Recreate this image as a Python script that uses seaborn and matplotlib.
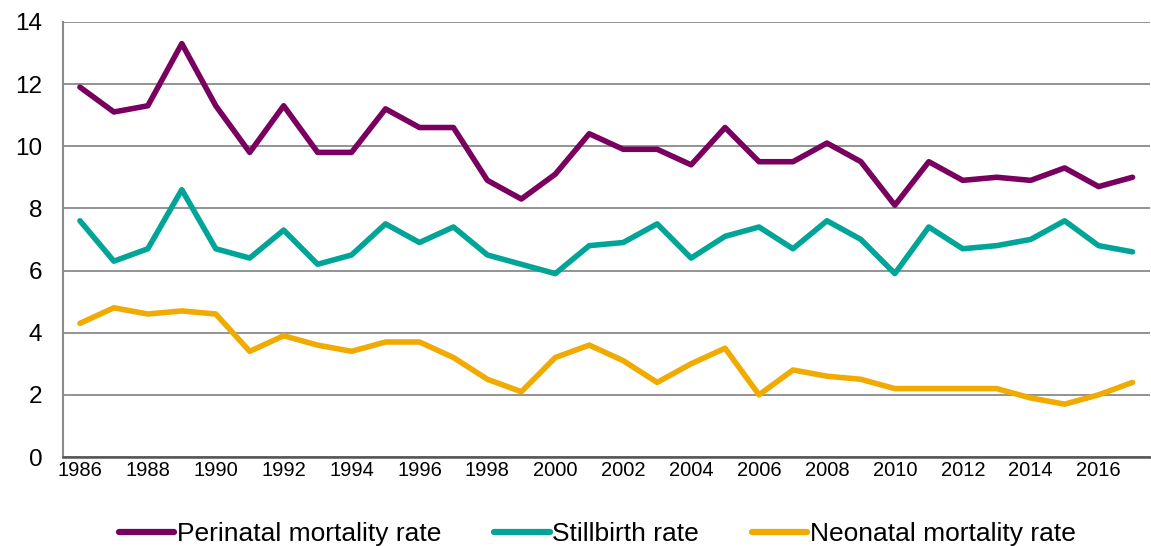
import matplotlib
matplotlib.use("Agg")
import matplotlib.pyplot as plt
import seaborn as sns
import pandas as pd

years = list(range(1986, 2018))
perinatal = [11.9, 11.1, 11.3, 13.3, 11.3, 9.8, 11.3, 9.8, 9.8, 11.2, 10.6, 10.6,
             8.9, 8.3, 9.1, 10.4, 9.9, 9.9, 9.4, 10.6, 9.5, 9.5, 10.1, 9.5,
             8.1, 9.5, 8.9, 9.0, 8.9, 9.3, 8.7, 9.0]
stillbirth = [7.6, 6.3, 6.7, 8.6, 6.7, 6.4, 7.3, 6.2, 6.5, 7.5, 6.9, 7.4,
              6.5, 6.2, 5.9, 6.8, 6.9, 7.5, 6.4, 7.1, 7.4, 6.7, 7.6, 7.0,
              5.9, 7.4, 6.7, 6.8, 7.0, 7.6, 6.8, 6.6]
neonatal = [4.3, 4.8, 4.6, 4.7, 4.6, 3.4, 3.9, 3.6, 3.4, 3.7, 3.7, 3.2,
            2.5, 2.1, 3.2, 3.6, 3.1, 2.4, 3.0, 3.5, 2.0, 2.8, 2.6, 2.5,
            2.2, 2.2, 2.2, 2.2, 1.9, 1.7, 2.0, 2.4]
series_names = ["Perinatal mortality rate", "Stillbirth rate", "Neonatal mortality rate"]
colors = ["#7A0060", "#00A598", "#F0AA00"]

df = pd.concat([
    pd.DataFrame({"Year": years, "Rate": vals, "Series": name})
    for name, vals in zip(series_names, [perinatal, stillbirth, neonatal])
])

sns.set_theme(style="white")
plt.rcParams["font.family"] = ["Liberation Sans", "DejaVu Sans"]
plt.rcParams["text.color"] = "black"

fig = plt.figure(figsize=(11.51, 5.46), dpi=100)
ax = fig.add_axes([0.0547, 0.163, 0.944, 0.797])

sns.lineplot(data=df, x="Year", y="Rate", hue="Series", hue_order=series_names,
             palette=dict(zip(series_names, colors)), linewidth=4.0, ax=ax,
             legend=True)

ax.set_xlim(1985.5, 2017.5)
ax.set_ylim(0, 14)
ax.set_yticks(range(0, 15, 2))
ax.set_xticks(years[::2])
ax.set_xticklabels([str(y) for y in years[::2]], fontsize=14.5)
ax.tick_params(axis="y", labelsize=17.5, length=0, pad=15, colors="black")
ax.tick_params(axis="x", length=0, pad=3, colors="black")
ax.set_xlabel("")
ax.set_ylabel("")

ax.grid(axis="y", color="#8a8a8a", linewidth=1.3)
ax.set_axisbelow(True)
for side in ["top", "right"]:
    ax.spines[side].set_visible(False)
ax.spines["left"].set_color("#8a8a8a")
ax.spines["left"].set_linewidth(1.5)
ax.spines["bottom"].set_color("#555555")
ax.spines["bottom"].set_linewidth(1.8)

handles, labels = ax.get_legend_handles_labels()
ax.get_legend().remove()
leg = fig.legend(handles, labels, loc="center", bbox_to_anchor=(0.519, 0.022),
                 ncol=3, frameon=False, fontsize=19, handlelength=2.1,
                 handletextpad=0.1, columnspacing=2.0, borderaxespad=0,
                 borderpad=0, labelcolor="black")
for line in leg.get_lines():
    line.set_linewidth(4.5)

fig.savefig("out.png", dpi=100)
